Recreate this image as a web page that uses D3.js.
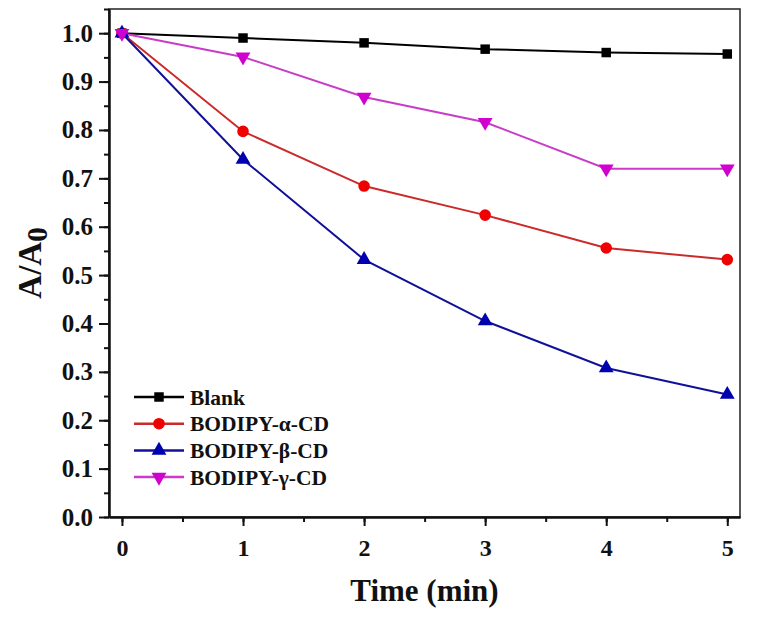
<!DOCTYPE html>
<html>
<head>
<meta charset="utf-8">
<script src="https://cdn.jsdelivr.net/npm/d3@7"></script>
<style>
  body { margin: 0; background: #fff; }
  text { font-family: "Liberation Serif", "Times New Roman", serif; font-weight: bold; fill: #111; }
</style>
</head>
<body>
<svg id="chart" width="761" height="617"></svg>
<script>
var times = [0, 1, 2, 3, 4, 5];
var blank = [1.0, 0.990, 0.980, 0.967, 0.960, 0.957];
var alphaCD = [1.0, 0.797, 0.684, 0.624, 0.556, 0.532];
var betaCD = [1.0, 0.739, 0.532, 0.405, 0.308, 0.253];
var gammaCD = [1.0, 0.951, 0.868, 0.816, 0.720, 0.720];
var xTicks = [0, 1, 2, 3, 4, 5];
var yTicks = [0, 0.1, 0.2, 0.3, 0.4, 0.5, 0.6, 0.7, 0.8, 0.9, 1.0];

var series = [
    { name: "Blank", values: blank, line: "#000", fill: "#000", symbol: d3.symbolSquare, size: 90, rot: 0 },
    { name: "BODIPY-α-CD", values: alphaCD, line: "#cc2a2a", fill: "#f00000", symbol: d3.symbolCircle, size: 105, rot: 0 },
    { name: "BODIPY-β-CD", values: betaCD, line: "#101098", fill: "#0000b0", symbol: d3.symbolTriangle, size: 95, rot: 0 },
    { name: "BODIPY-γ-CD", values: gammaCD, line: "#c83cc8", fill: "#d000d0", symbol: d3.symbolTriangle, size: 95, rot: 180 }
];

var svg = d3.select("#chart");
var plotLeft = 109, plotRight = 740, plotTop = 9, plotBottom = 517;

var x = d3.scaleLinear().domain([-0.107, 5.105]).range([plotLeft, plotRight]);
var y = d3.scaleLinear().domain([0, 1.05]).range([plotBottom, plotTop]);

// frame
svg.append("rect")
    .attr("x", plotLeft).attr("y", plotTop)
    .attr("width", plotRight - plotLeft).attr("height", plotBottom - plotTop)
    .style("fill", "none").style("stroke", "#222").style("stroke-width", 1.5);

// x axis
var xAxis = svg.append("g").attr("transform", "translate(0," + plotBottom + ")");
xAxis.append("g").call(d3.axisBottom(x).tickValues(d3.range(0, 5.01, 0.5)).tickSize(5).tickSizeOuter(0).tickFormat(""));
xAxis.append("g").call(d3.axisBottom(x).tickValues(xTicks).tickSize(9).tickSizeOuter(0).tickPadding(13).tickFormat(d3.format("d")));
xAxis.selectAll(".domain").style("stroke-width", 2).style("stroke", "#111");
xAxis.selectAll("line").style("stroke-width", 2).style("stroke", "#111");
xAxis.selectAll("text").style("font-size", "24px").style("font-family", "Liberation Serif").style("font-weight", "bold");

// y axis
var yAxis = svg.append("g").attr("transform", "translate(" + plotLeft + ",0)");
yAxis.append("g").call(d3.axisLeft(y).tickValues(d3.range(0, 1.051, 0.05)).tickSize(5).tickSizeOuter(0).tickFormat(""));
yAxis.append("g").call(d3.axisLeft(y).tickValues(yTicks).tickSize(10).tickSizeOuter(0).tickPadding(6).tickFormat(d3.format(".1f")));
yAxis.selectAll(".domain").style("stroke-width", 2).style("stroke", "#111");
yAxis.selectAll("line").style("stroke-width", 2).style("stroke", "#111");
yAxis.selectAll("text").style("font-size", "25px").style("font-family", "Liberation Serif").style("font-weight", "bold");

// axis titles
svg.append("text")
    .attr("x", (plotLeft + plotRight) / 2).attr("y", 601)
    .attr("text-anchor", "middle")
    .style("font-size", "31px")
    .text("Time (min)");

var yTitle = svg.append("text")
    .attr("transform", "translate(41," + ((plotTop + plotBottom) / 2) + ") rotate(-90)")
    .attr("text-anchor", "middle")
    .style("font-size", "33px");
yTitle.append("tspan").text("A/A");
yTitle.append("tspan").attr("dy", 6).style("font-size", "29px").text("0");

// lines and markers
var line = d3.line()
    .x(function(d, i) { return x(times[i]); })
    .y(function(d) { return y(d); });

series.forEach(function(s) {
    svg.append("path")
        .datum(s.values)
        .attr("d", line)
        .style("fill", "none")
        .style("stroke", s.line)
        .style("stroke-width", 2);
});

series.forEach(function(s) {
    svg.selectAll(null)
        .data(s.values)
        .enter().append("path")
        .attr("transform", function(d, i) { return "translate(" + x(times[i]) + "," + y(d) + ") rotate(" + s.rot + ")"; })
        .attr("d", d3.symbol().type(s.symbol).size(s.size))
        .style("fill", s.fill);
});

// legend
var legend = svg.append("g").attr("transform", "translate(134,397)");
series.forEach(function(s, i) {
    var g = legend.append("g").attr("transform", "translate(0," + (i * 26.7) + ")");
    g.append("line").attr("x1", 0).attr("x2", 50).attr("y1", 0).attr("y2", 0)
        .style("stroke", s.line).style("stroke-width", 2.5);
    g.append("path")
        .attr("transform", "translate(25,0) rotate(" + s.rot + ")")
        .attr("d", d3.symbol().type(s.symbol).size(s.size))
        .style("fill", s.fill);
    g.append("text").attr("x", 56).attr("y", 0).attr("dy", "0.35em")
        .style("font-size", "21.5px")
        .text(s.name);
});
</script>
</body>
</html>
